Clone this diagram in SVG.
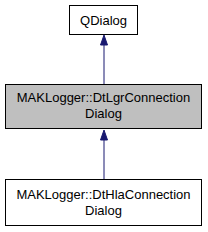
<svg xmlns="http://www.w3.org/2000/svg" width="208" height="232" viewBox="0 0 208 232">
<style>
.box{stroke:#000;stroke-width:1;fill:#fff}
.cur{fill:#bfbfbf}
text{font-family:"Liberation Sans",Arial,sans-serif;font-size:13px;fill:#000;text-anchor:middle}
.edge{stroke:#191970;stroke-width:1;fill:none}
.head{fill:#191970;stroke:#191970}
</style>
<rect width="208" height="232" fill="#fff"/>
<g id="connectors">
<path class="edge" d="M104,84 L104,45"/>
<polygon class="head" points="100.5,45 104,35 107.5,45"/>
<path class="edge" d="M104,179 L104,140"/>
<polygon class="head" points="100.5,140 104,130 107.5,140"/>
</g>
<g id="node-qdialog">
<rect class="box" x="69.5" y="5.5" width="68" height="29"/>
<text x="103.5" y="24.5">QDialog</text>
</g>
<g id="node-dtlgr">
<rect class="box cur" x="5.5" y="84.5" width="196" height="44"/>
<text x="103.5" y="102">MAKLogger::DtLgrConnection</text>
<text x="103.5" y="117.5">Dialog</text>
</g>
<g id="node-dthla">
<rect class="box" x="5.5" y="179.5" width="196" height="46"/>
<text x="103.5" y="199">MAKLogger::DtHlaConnection</text>
<text x="103.5" y="215">Dialog</text>
</g>
</svg>
